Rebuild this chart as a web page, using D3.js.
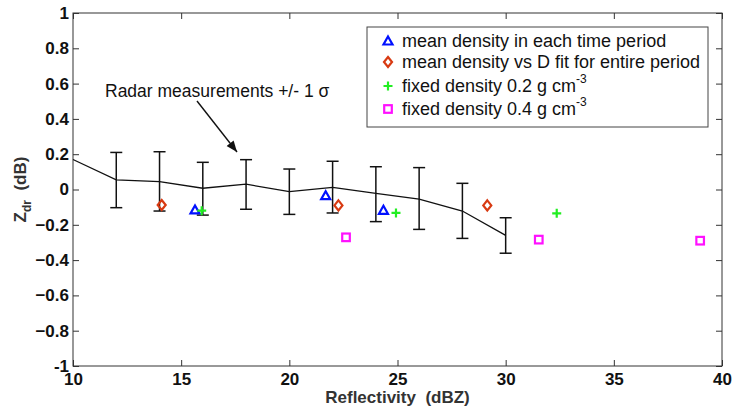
<!DOCTYPE html>
<html><head><meta charset="utf-8">
<script src="https://cdn.jsdelivr.net/npm/d3@7"></script>
<style>
body{margin:0;background:#fff;}
svg{display:block;font-family:"Liberation Sans",Arial,sans-serif;}
</style></head>
<body><svg id="c" width="733" height="414"></svg>
<script>
// Radar measurements (line + error bars)
const radarX   = [10, 12, 14, 16, 18, 20, 22, 24, 26, 28, 30];
const radarY   = [0.17, 0.055, 0.045, 0.007, 0.03, -0.012, 0.012, -0.022, -0.054, -0.122, -0.26];
const errTop   = [null, 0.21, 0.214, 0.154, 0.169, 0.116, 0.16, 0.129, 0.124, 0.035, -0.16];
const errBot   = [null, -0.103, -0.122, -0.145, -0.112, -0.141, -0.133, -0.182, -0.226, -0.277, -0.361];
// Model series
const triX = [15.64, 21.68, 24.35];   const triY = [-0.116, -0.035, -0.118];
const diaX = [14.1, 22.27, 29.15];    const diaY = [-0.088, -0.09, -0.09];
const plusX = [15.95, 24.93, 32.36];  const plusY = [-0.12, -0.133, -0.135];
const sqX = [22.62, 31.53, 38.99];    const sqY = [-0.271, -0.284, -0.29];
const xTicks = [10, 15, 20, 25, 30, 35, 40];
const yTicks = [-1, -0.8, -0.6, -0.4, -0.2, 0, 0.2, 0.4, 0.6, 0.8, 1];
const legendLabels = ["mean density in each time period", "mean density vs D fit for entire period", "fixed density 0.2 g cm", "fixed density 0.4 g cm"];

const svg = d3.select("#c");
const L = 73, R = 722, T = 13, B = 366;
const x = d3.scaleLinear().domain([10, 40]).range([L, R]);
const y = d3.scaleLinear().domain([-1, 1]).range([B, T]);
const axCol = "#333";

// box
svg.append("rect").attr("x", L).attr("y", T).attr("width", R - L).attr("height", B - T)
  .attr("fill", "none").attr("stroke", axCol).attr("stroke-width", 1);

const tl = 6;
const fmt = v => (v === 0 ? "0" : (Math.abs(v) === 1 ? String(v) : d3.format(".1f")(v)));
// x axis
const gx = svg.append("g").attr("transform", `translate(0,${B})`)
  .call(d3.axisBottom(x).tickValues(xTicks).tickSize(-tl).tickFormat(d3.format("d")));
gx.select(".domain").remove();
gx.selectAll("line").attr("stroke", axCol);
gx.selectAll("text").attr("font-size", 17).attr("font-weight", "bold").attr("fill", "#111").attr("y", 19).attr("dy", 0);
// top ticks
const gxt = svg.append("g").attr("transform", `translate(0,${T})`)
  .call(d3.axisTop(x).tickValues(xTicks).tickSize(-tl).tickFormat(""));
gxt.select(".domain").remove(); gxt.selectAll("line").attr("stroke", axCol);
// y axis
const gy = svg.append("g").attr("transform", `translate(${L},0)`)
  .call(d3.axisLeft(y).tickValues(yTicks).tickSize(-tl).tickFormat(fmt));
gy.select(".domain").remove();
gy.selectAll("line").attr("stroke", axCol);
gy.selectAll("text").attr("font-size", 17).attr("font-weight", "bold").attr("fill", "#111").attr("x", -4);
const gyr = svg.append("g").attr("transform", `translate(${R},0)`)
  .call(d3.axisRight(y).tickValues(yTicks).tickSize(-tl).tickFormat(""));
gyr.select(".domain").remove(); gyr.selectAll("line").attr("stroke", axCol);

// axis labels
svg.append("text").attr("x", (L + R) / 2).attr("y", 403).attr("text-anchor", "middle")
  .attr("font-size", 17).attr("font-weight", "bold").attr("fill", "#333").attr("xml:space", "preserve").text("Reflectivity  (dBZ)");
const yl = svg.append("text").attr("transform", `translate(26,${(T + B) / 2}) rotate(-90)`)
  .attr("text-anchor", "middle").attr("font-size", 17).attr("font-weight", "bold").attr("fill", "#333").attr("xml:space", "preserve");
yl.append("tspan").text("Z");
yl.append("tspan").attr("font-size", 12).attr("dy", 5).text("dr");
yl.append("tspan").attr("dy", -5).text("  (dB)");

// line
const pts = radarX.map((d, i) => [d, radarY[i]]);
svg.append("path").attr("d", d3.line().x(d => x(d[0])).y(d => y(d[1]))(pts))
  .attr("fill", "none").attr("stroke", "#111").attr("stroke-width", 1.3);
// error bars
const eb = svg.append("g").attr("stroke", "#111").attr("stroke-width", 1.5);
radarX.forEach((d, i) => {
  if (errTop[i] === null) return;
  const xx = x(d);
  eb.append("line").attr("x1", xx).attr("x2", xx).attr("y1", y(errTop[i])).attr("y2", y(errBot[i]));
  eb.append("line").attr("x1", xx - 6).attr("x2", xx + 6).attr("y1", y(errTop[i])).attr("y2", y(errTop[i]));
  eb.append("line").attr("x1", xx - 6).attr("x2", xx + 6).attr("y1", y(errBot[i])).attr("y2", y(errBot[i]));
});

// markers
const blue = "#0010ff", red = "#d83a12", green = "#22ee22", mag = "#ff10ff";
function tri(g, cx, cy) { g.append("path").attr("d", `M${cx},${cy - 4.5}L${cx + 4.5},${cy + 3.5}L${cx - 4.5},${cy + 3.5}Z`).attr("fill", "none").attr("stroke", blue).attr("stroke-width", 2.2); }
function dia(g, cx, cy) { g.append("path").attr("d", `M${cx},${cy - 5}L${cx + 4},${cy}L${cx},${cy + 5}L${cx - 4},${cy}Z`).attr("fill", "none").attr("stroke", red).attr("stroke-width", 2.2); }
function plus(g, cx, cy) { g.append("path").attr("d", `M${cx - 4.5},${cy}H${cx + 4.5}M${cx},${cy - 4.5}V${cy + 4.5}`).attr("fill", "none").attr("stroke", green).attr("stroke-width", 2.2); }
function sq(g, cx, cy) { g.append("rect").attr("x", cx - 3.8).attr("y", cy - 3.8).attr("width", 7.6).attr("height", 7.6).attr("fill", "none").attr("stroke", mag).attr("stroke-width", 2.2); }
const mk = svg.append("g");
triX.forEach((d, i) => tri(mk, x(d), y(triY[i])));
diaX.forEach((d, i) => dia(mk, x(d), y(diaY[i])));
plusX.forEach((d, i) => plus(mk, x(d), y(plusY[i])));
sqX.forEach((d, i) => sq(mk, x(d), y(sqY[i])));

// annotation
svg.append("text").attr("x", 105).attr("y", 97).attr("font-size", 17.5).attr("fill", "#111")
  .text("Radar measurements +/- 1 ").append("tspan").text("σ");
svg.append("defs").append("marker").attr("id", "ah").attr("viewBox", "0 0 10 10").attr("refX", 10).attr("refY", 5)
  .attr("markerWidth", 8).attr("markerHeight", 8).attr("orient", "auto")
  .append("path").attr("d", "M0,1L10,5L0,9Z").attr("fill", "#111");
svg.append("line").attr("x1", 197).attr("y1", 101).attr("x2", 237).attr("y2", 152)
  .attr("stroke", "#111").attr("stroke-width", 1.4).attr("marker-end", "url(#ah)");

// legend
const lg = svg.append("g");
lg.append("rect").attr("x", 367).attr("y", 27).attr("width", 341).attr("height", 100)
  .attr("fill", "#fff").attr("stroke", "#444").attr("stroke-width", 1);
const rowsY = [41, 62, 86, 109];
const mfun = [tri, dia, plus, sq];
legendLabels.forEach((t, i) => {
  mfun[i](lg, 388, rowsY[i]);
  const tx = lg.append("text").attr("x", 402).attr("y", rowsY[i] + 6).attr("font-size", 18).attr("fill", "#111").text(t);
  if (i >= 2) tx.append("tspan").attr("font-size", 12).attr("dy", -9).text("-3");
});
</script></body></html>
